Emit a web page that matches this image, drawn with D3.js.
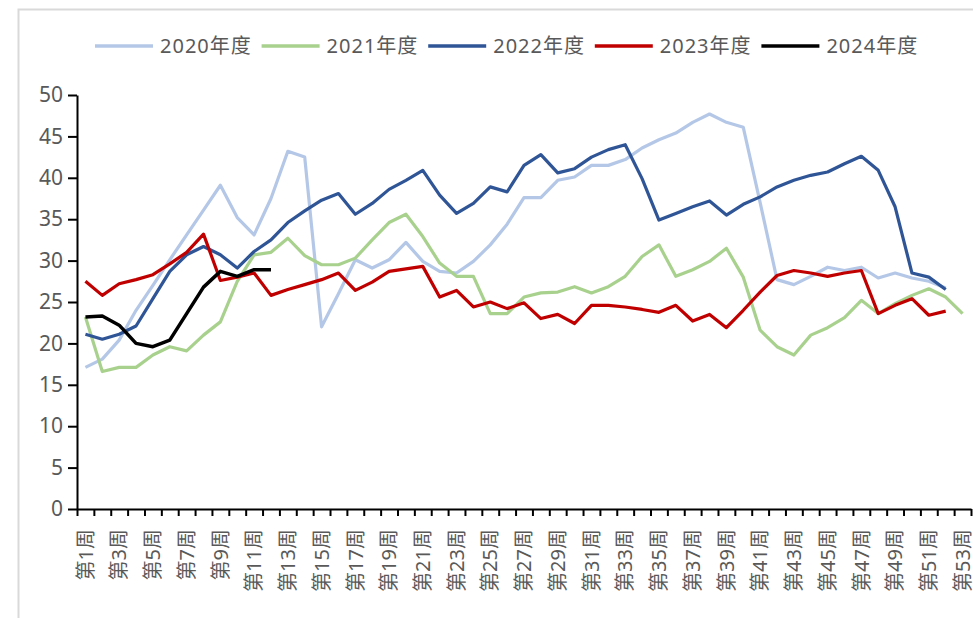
<!DOCTYPE html>
<html>
<head>
<meta charset="utf-8">
<script src="https://cdn.jsdelivr.net/npm/d3@7/dist/d3.min.js"></script>
<style>
  html, body { margin: 0; padding: 0; background: #fff; }
  #chart { width: 973px; height: 618px; }
  text { font-family: 'Noto Sans', 'Noto Sans CJK SC', sans-serif; }
</style>
</head>
<body>
<div id="chart"></div>
<script>
  // 周次
  var weeks = d3.range(1, 54).map(function (i) { return '第' + i + '周'; });

  var seriesNames = ['2020年度', '2021年度', '2022年度', '2023年度', '2024年度'];
  var seriesColors = ['#b4c7e7', '#a9d18e', '#2f5597', '#c00000', '#000000'];

  var v2020 = [17.1, 18.1, 20.4, 24.0, 27.0, 30.1, 33.1, 36.1, 39.1, 35.2,
    33.1, 37.5, 43.2, 42.5, 22.0, 26.0, 30.1, 29.1, 30.1, 32.2,
    29.9, 28.7, 28.5, 29.9, 31.9, 34.4, 37.6, 37.6, 39.7, 40.1,
    41.5, 41.5, 42.2, 43.6, 44.6, 45.4, 46.7, 47.7, 46.7, 46.1,
    37.0, 27.7, 27.1, 28.1, 29.2, 28.8, 29.2, 27.9, 28.5, 27.9, 27.5, 26.7];
  var v2021 = [23.2, 16.6, 17.1, 17.1, 18.6, 19.6, 19.1, 21.0, 22.6, 27.5,
    30.7, 31.0, 32.7, 30.6, 29.5, 29.5, 30.3, 32.5, 34.6, 35.6,
    32.9, 29.7, 28.1, 28.1, 23.6, 23.6, 25.6, 26.1, 26.2, 26.85,
    26.1, 26.85, 28.1, 30.5, 31.9, 28.1, 28.9, 29.9, 31.5, 28.0,
    21.6, 19.6, 18.6, 21.0, 21.9, 23.1, 25.2, 23.6, 24.8, 25.8, 26.6, 25.6, 23.6];
  var v2022 = [21.1, 20.5, 21.1, 22.1, 25.4, 28.7, 30.7, 31.7, 30.7, 29.1,
    31.1, 32.5, 34.6, 36.0, 37.3, 38.1, 35.6, 36.9, 38.6, 39.7,
    40.9, 37.9, 35.7, 36.9, 38.9, 38.3, 41.5, 42.8, 40.6, 41.1,
    42.5, 43.4, 44.0, 39.9, 34.9, 35.7, 36.5, 37.2, 35.5, 36.8,
    37.7, 38.9, 39.7, 40.3, 40.7, 41.7, 42.6, 40.9, 36.5, 28.5, 28.0, 26.5];
  var v2023 = [27.5, 25.8, 27.2, 27.7, 28.3, 29.6, 31.0, 33.2, 27.6, 28.0,
    28.5, 25.8, 26.5, 27.1, 27.7, 28.5, 26.4, 27.4, 28.7, 29.0,
    29.3, 25.6, 26.4, 24.4, 25.0, 24.2, 24.9, 23.0, 23.5, 22.4,
    24.6, 24.6, 24.4, 24.1, 23.75, 24.6, 22.7, 23.5, 21.9, 24.0,
    26.2, 28.2, 28.8, 28.5, 28.1, 28.5, 28.8, 23.6, 24.6, 25.4, 23.4, 23.9];
  var v2024 = [23.2, 23.3, 22.2, 20.0, 19.6, 20.4, 23.6, 26.8, 28.7, 28.1, 28.9, 28.9];

  var yTicks = [0, 5, 10, 15, 20, 25, 30, 35, 40, 45, 50];

  var seriesValues = [v2020, v2021, v2022, v2023, v2024];

  var width = 973, height = 618;
  var margin = { top: 95, right: 2, bottom: 109, left: 77 };

  var svg = d3.select('#chart').append('svg')
    .attr('width', width)
    .attr('height', height);

  // 外框
  svg.append('path')
    .attr('d', 'M18.5,' + height + 'V9.5H' + width)
    .attr('fill', 'none')
    .attr('stroke', '#d9d9d9')
    .attr('stroke-width', 2);

  var x = d3.scaleBand()
    .domain(weeks)
    .range([margin.left, width - margin.right])
    .padding(0);

  var xEdge = d3.scaleLinear()
    .domain([0, weeks.length])
    .range([margin.left, width - margin.right]);

  var y = d3.scaleLinear()
    .domain([0, 50])
    .range([height - margin.bottom, margin.top]);

  // y 轴
  var yAxis = svg.append('g')
    .attr('transform', 'translate(' + margin.left + ',0)')
    .call(d3.axisLeft(y).tickValues(yTicks).tickSize(9).tickSizeOuter(0).tickPadding(5));
  yAxis.selectAll('line').attr('stroke', '#000').attr('stroke-width', 2);
  yAxis.select('.domain').attr('stroke', '#000').attr('stroke-width', 2);
  yAxis.selectAll('text')
    .style('font-size', '21px')
    .style('fill', '#595959');

  // x 轴刻度
  var xAxis = svg.append('g')
    .attr('transform', 'translate(0,' + y(0) + ')')
    .call(d3.axisBottom(xEdge).tickValues(d3.range(weeks.length + 1)).tickFormat('').tickSize(7).tickSizeOuter(0));
  xAxis.selectAll('line').attr('stroke', '#000').attr('stroke-width', 2);
  xAxis.select('.domain').attr('stroke', '#000').attr('stroke-width', 2);

  // x 轴标签(奇数周)
  svg.append('g')
    .selectAll('text')
    .data(weeks.filter(function (d, i) { return i % 2 === 0; }))
    .enter()
    .append('text')
    .attr('transform', function (d) {
      return 'translate(' + (x(d) + x.bandwidth() / 2) + ',' + (y(0) + 20) + ') rotate(-90)';
    })
    .attr('text-anchor', 'end')
    .attr('dy', '0.36em')
    .style('font-size', '20px')
    .style('fill', '#595959')
    .text(function (d) { return d; });

  var line = d3.line()
    .x(function (d, i) { return x(weeks[i]) + x.bandwidth() / 2; })
    .y(function (d) { return y(d); });

  svg.append('g')
    .selectAll('path')
    .data(seriesValues)
    .enter()
    .append('path')
    .attr('d', function (d) { return line(d); })
    .attr('fill', 'none')
    .attr('stroke', function (d, i) { return seriesColors[i]; })
    .attr('stroke-width', function (d, i) { return i === 4 ? 3.5 : 3.2; })
    .attr('stroke-linejoin', 'round');

  // 图例
  var legend = svg.append('g')
    .selectAll('g')
    .data(seriesNames)
    .enter()
    .append('g')
    .attr('transform', function (d, i) { return 'translate(' + (95 + i * 166.6) + ',46)'; });

  legend.append('line')
    .attr('x1', 0).attr('x2', 58)
    .attr('stroke', function (d, i) { return seriesColors[i]; })
    .attr('stroke-width', 3.5);

  legend.append('text')
    .attr('x', 65)
    .attr('dy', '0.36em')
    .style('font-size', '20px')
    .style('letter-spacing', '1px')
    .style('fill', '#595959')
    .text(function (d) { return d; });
</script>
</body>
</html>
